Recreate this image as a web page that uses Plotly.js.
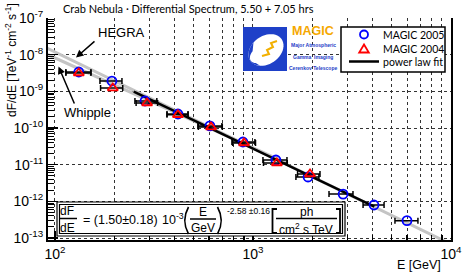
<!DOCTYPE html>
<html><head><meta charset="utf-8">
<script src="https://cdn.plot.ly/plotly-3.0.1.min.js"></script>
<style>html,body{margin:0;padding:0;background:#fff}#chart{width:463px;height:275px}</style>
</head><body><div id="chart"></div>
<script>
// ---- data ----
const E2005   = [132, 194, 285, 418, 606, 890, 1306, 1897, 2852, 4085, 5995];
const F2005   = [3.37e-9, 1.91e-9, 5.46e-10, 2.41e-10, 1.14e-10, 4.15e-11, 1.34e-11, 4.62e-12, 1.58e-12, 7.94e-13, 2.97e-13];
const E2005lo = [113.6, 168.8, 253.5, 368, 527, 783, 1123, 1648, 2421, 3597, 5212];
const E2005hi = [152, 218, 327, 470, 697, 1023, 1485, 2153, 3199, 4592, 6808];

const E2004   = [132, 196, 292, 418, 614, 901, 1321, 1941];
const F2004   = [3.16e-9, 1.23e-9, 4.81e-10, 2.30e-10, 1.06e-10, 3.90e-11, 1.11e-11, 5.57e-12];
const E2004lo = [113.6, 170, 257, 368, 530, 790, 1130, 1680];
const E2004hi = [152, 220, 330, 470, 700, 1030, 1490, 2180];

// power law fit: dF/dE = 1.50e-3 (E/GeV)^-2.58
const fitNorm = 1.50e-3, fitIndex = 2.58, fitE = [250, 4100];
// reference spectra (norm at 1 TeV, photon index)
const hegraNorm = 2.83e-11, hegraIndex = 2.62, hegraE = [90, 9500];
const whippleNorm = 2.90e-11, whippleIndex = 2.45, whippleE = [90, 1500];

const seriesNames = ['MAGIC 2005', 'MAGIC 2004', 'power law fit'];
const xTickVals = [100, 1000, 10000];
const xTickText = ['10<sup>2</sup>', '10<sup>3</sup>', '10<sup>4</sup>'];
const yTickVals = [1e-13, 1e-12, 1e-11, 1e-10, 1e-9, 1e-8, 1e-7];
const yTickText = ['10<sup>-13</sup>', '10<sup>-12</sup>', '10<sup>-11</sup>', '10<sup>-10</sup>', '10<sup>-9</sup>', '10<sup>-8</sup>', '10<sup>-7</sup>'];

// ---- helpers ----
const pl = (E, n, g) => E.map(e => n * Math.pow(e, -g));
const plTeV = (E, n, g) => E.map(e => n * Math.pow(e / 1000, -g));
const minorVals = (d0, d1) => { const v = []; for (let d = d0; d < d1; d++) for (let k = 2; k <= 9; k++) v.push(k * Math.pow(10, d)); return v; };

const L = 48, R = 451, T = 18, B = 240;
const px = x => (x - L) / (R - L);
const py = y => (B - y) / (B - T);

const BLUE = '#0000ff', RED = '#ff0000';
const errStyle = {color: 'black', thickness: 1.5, width: 3};

const traces = [
  {x: hegraE, y: plTeV(hegraE, hegraNorm, hegraIndex), mode: 'lines', line: {color: '#c4c4c4', width: 3}, showlegend: false, hoverinfo: 'skip'},
  {x: whippleE, y: plTeV(whippleE, whippleNorm, whippleIndex), mode: 'lines', line: {color: '#c4c4c4', width: 3}, showlegend: false, hoverinfo: 'skip'},
  {x: fitE, y: pl(fitE, fitNorm, fitIndex), mode: 'lines', name: seriesNames[2], line: {color: 'black', width: 2.5}},
  {x: E2005, y: F2005, mode: 'markers', name: seriesNames[0],
   marker: {symbol: 'circle-open', size: 9, color: BLUE, line: {width: 1.8, color: BLUE}},
   error_x: Object.assign({type: 'data', symmetric: false, array: E2005hi.map((h, i) => h - E2005[i]), arrayminus: E2005.map((e, i) => e - E2005lo[i])}, errStyle)},
  {x: E2004, y: F2004, mode: 'markers', name: seriesNames[1],
   marker: {symbol: 'triangle-up-open', size: 9, color: RED, line: {width: 1.8, color: RED}},
   error_x: Object.assign({type: 'data', symmetric: false, array: E2004hi.map((h, i) => h - E2004[i]), arrayminus: E2004.map((e, i) => e - E2004lo[i])}, errStyle)}
];

// ---- logo geometry ----
function ellPt(cx, cy, a, b, th, t) {
  const c = Math.cos(th), s = Math.sin(th);
  return [cx + a * Math.cos(t) * c - b * Math.sin(t) * s, cy + a * Math.cos(t) * s + b * Math.sin(t) * c];
}
const P = (x, y) => px(x).toFixed(5) + ',' + py(y).toFixed(5);
function pathFromPts(pts, close) {
  return pts.map((p, i) => (i ? 'L' : 'M') + P(p[0], p[1])).join(' ') + (close ? ' Z' : '');
}
const th = -35 * Math.PI / 180;
const ellPts = []; for (let i = 0; i <= 48; i++) ellPts.push(ellPt(266, 50, 19, 14, th, i / 48 * 2 * Math.PI));
const bluePts = []; for (let i = 0; i <= 20; i++) bluePts.push(ellPt(266, 50, 19, 14, th, Math.PI - 0.75 + i / 20 * 2.0));
const innerPts = []; for (let i = 0; i <= 12; i++) innerPts.push(ellPt(259, 55, 10, 7, th, Math.PI + 1.25 - i / 12 * 2.0));
const bolt = [[277, 41], [271, 43], [273, 47], [267, 50], [269, 54], [262, 56]];

const paperShape = o => Object.assign({xref: 'paper', yref: 'paper'}, o);
const hline = (x0, x1, y, w) => paperShape({type: 'line', x0: px(x0), x1: px(x1), y0: py(y), y1: py(y), line: {color: 'black', width: w || 1.5}});

const shapes = [
  // formula box (double border)
  paperShape({type: 'rect', x0: px(57), x1: px(345), y0: py(236), y1: py(202), fillcolor: 'white', line: {color: 'black', width: 1.2}}),
  paperShape({type: 'rect', x0: px(59.5), x1: px(342.5), y0: py(233.5), y1: py(204.5), line: {color: 'black', width: 1.2}}),
  hline(59, 77, 218.5),
  hline(190, 216, 219),
  hline(276, 337, 218.5),
  // parentheses and brackets
  paperShape({type: 'path', path: 'M' + P(188.5, 207) + ' Q' + P(181, 220.5) + ' ' + P(188.5, 234), line: {color: 'black', width: 1.6}}),
  paperShape({type: 'path', path: 'M' + P(217.5, 207) + ' Q' + P(225, 220.5) + ' ' + P(217.5, 234), line: {color: 'black', width: 1.6}}),
  paperShape({type: 'path', path: 'M' + P(277, 209) + ' L' + P(272.5, 209) + ' L' + P(272.5, 233) + ' L' + P(277, 233), line: {color: 'black', width: 1.8}}),
  paperShape({type: 'path', path: 'M' + P(336, 209) + ' L' + P(340, 209) + ' L' + P(340, 233) + ' L' + P(336, 233), line: {color: 'black', width: 1.8}}),
  // logo
  paperShape({type: 'rect', x0: px(243), x1: px(287), y0: py(71), y1: py(27), fillcolor: '#1e40c8', line: {width: 0}}),
  paperShape({type: 'path', path: pathFromPts(ellPts, true), fillcolor: 'white', line: {width: 0}}),
  paperShape({type: 'path', path: pathFromPts(bluePts.concat(innerPts), true), fillcolor: '#1e40c8', line: {width: 0}}),
  paperShape({type: 'path', path: pathFromPts(bolt, false), line: {color: '#f2b000', width: 2}}),
  // legend box and symbols
  paperShape({type: 'rect', x0: px(341), x1: px(445), y0: py(72), y1: py(27), fillcolor: 'white', line: {color: 'black', width: 1.5}}),
  paperShape({type: 'circle', x0: px(360), x1: px(368), y0: py(38.5), y1: py(30.5), line: {color: BLUE, width: 1.8}}),
  paperShape({type: 'path', path: 'M' + P(364, 44.5) + ' L' + P(368.8, 52.5) + ' L' + P(359.2, 52.5) + ' Z', line: {color: RED, width: 1.8}}),
  hline(349, 379, 61.5, 2.5)
];

const sans = 'Liberation Sans, Arial, sans-serif';
const hum = 'Lato, Open Sans, sans-serif';
function txt(text, x, y, size, opts) {
  return Object.assign({text: text, xref: 'paper', yref: 'paper', x: px(x), y: py(y), showarrow: false,
    xanchor: 'center', yanchor: 'middle', font: {family: sans, size: size, color: 'black'}}, opts || {});
}
function arrow(hx, hy, tx, ty) {
  return {text: '', xref: 'paper', yref: 'paper', x: px(hx), y: py(hy), ax: tx - hx, ay: ty - hy,
    showarrow: true, arrowhead: 2, arrowsize: 1, arrowwidth: 1.5, arrowcolor: 'black', standoff: 0, startstandoff: 0};
}
const humFont = s => ({font: {family: hum, size: s, color: 'black'}});

const annotations = [
  txt('Crab Nebula · Differential Spectrum, 5.50 + 7.05 hrs', 188, 9, 11, humFont(11)),
  txt('dF/dE [TeV<sup>-1</sup> cm<sup>-2</sup> s<sup>-1</sup>]', 11, 60, 12, {textangle: -90}),
  txt('E [GeV]', 419, 265, 12.5),
  txt('HEGRA', 121, 33, 13),
  txt('Whipple', 87, 112, 13),
  arrow(76, 57.5, 96, 40),
  arrow(58.5, 66.5, 75, 105),
  // legend texts
  txt(seriesNames[0], 381, 34.5, 10, Object.assign({xanchor: 'left'}, humFont(10.5))),
  txt(seriesNames[1], 381, 48.5, 10, Object.assign({xanchor: 'left'}, humFont(10.5))),
  txt(seriesNames[2], 381, 62, 10, Object.assign({xanchor: 'left'}, humFont(10.5))),
  // formula
  txt('dF', 67, 211, 12),
  txt('dE', 67, 227.5, 12),
  txt('= (1.50±0.18)', 81, 220, 12.5, {xanchor: 'left'}),
  txt('10<sup>-3</sup>', 160, 219, 12.5, {xanchor: 'left'}),
  txt('E', 203, 211.5, 12),
  txt('GeV', 203, 228, 12),
  txt('-2.58 ±0.16', 225, 211, 8.5, {xanchor: 'left'}),
  txt('ph', 306, 212, 12),
  txt('cm<sup>2</sup> s TeV', 306, 229, 12),
  // logo text
  txt('<b>MAGIC</b>', 313, 31, 12.5, {font: {family: sans, size: 12.5, color: '#f5a800'}}),
  txt('<b>Major Atmospheric</b>', 313, 45, 5, {font: {family: sans, size: 5, color: '#1e40c8'}}),
  txt('<b>Gamma  Imaging</b>', 313, 57, 5, {font: {family: sans, size: 5, color: '#1e40c8'}}),
  txt('<b>Cerenkov Telescope</b>', 313, 67.5, 5, {font: {family: sans, size: 5, color: '#1e40c8'}})
];

const layout = {
  width: 463, height: 275,
  margin: {l: L, r: 463 - R, t: T, b: 275 - B, pad: 0},
  paper_bgcolor: 'white', plot_bgcolor: 'white',
  showlegend: false,
  xaxis: {type: 'log', range: [1.965, 4.0], tickmode: 'array', tickvals: xTickVals, ticktext: xTickText,
          ticks: 'inside', ticklen: 9, tickwidth: 1.5, tickcolor: 'black',
          showline: true, linecolor: 'black', linewidth: 2, mirror: false,
          showgrid: true, gridcolor: '#333', griddash: 'dot', gridwidth: 1, zeroline: false,
          tickfont: {family: sans, size: 14, color: 'black'},
          minor: {tickmode: 'array', tickvals: minorVals(2, 4), ticks: 'inside', ticklen: 5, tickwidth: 1.2, tickcolor: 'black',
                  showgrid: true, gridcolor: '#333', griddash: 'dot', gridwidth: 1}},
  yaxis: {type: 'log', range: [-13.054, -7.0], tickmode: 'array', tickvals: yTickVals, ticktext: yTickText,
          ticks: 'inside', ticklen: 10, tickwidth: 1.5, tickcolor: 'black',
          showline: true, linecolor: 'black', linewidth: 2, mirror: true,
          showgrid: true, gridcolor: '#333', griddash: 'dot', gridwidth: 1, zeroline: false,
          tickfont: {family: sans, size: 14, color: 'black'},
          minor: {tickmode: 'array', tickvals: minorVals(-14, -7), ticks: 'inside', ticklen: 6, tickwidth: 1, tickcolor: 'black', showgrid: false}},
  shapes: shapes,
  annotations: annotations
};

Plotly.newPlot('chart', traces, layout, {staticPlot: true, displayModeBar: false});
</script>
</body></html>
